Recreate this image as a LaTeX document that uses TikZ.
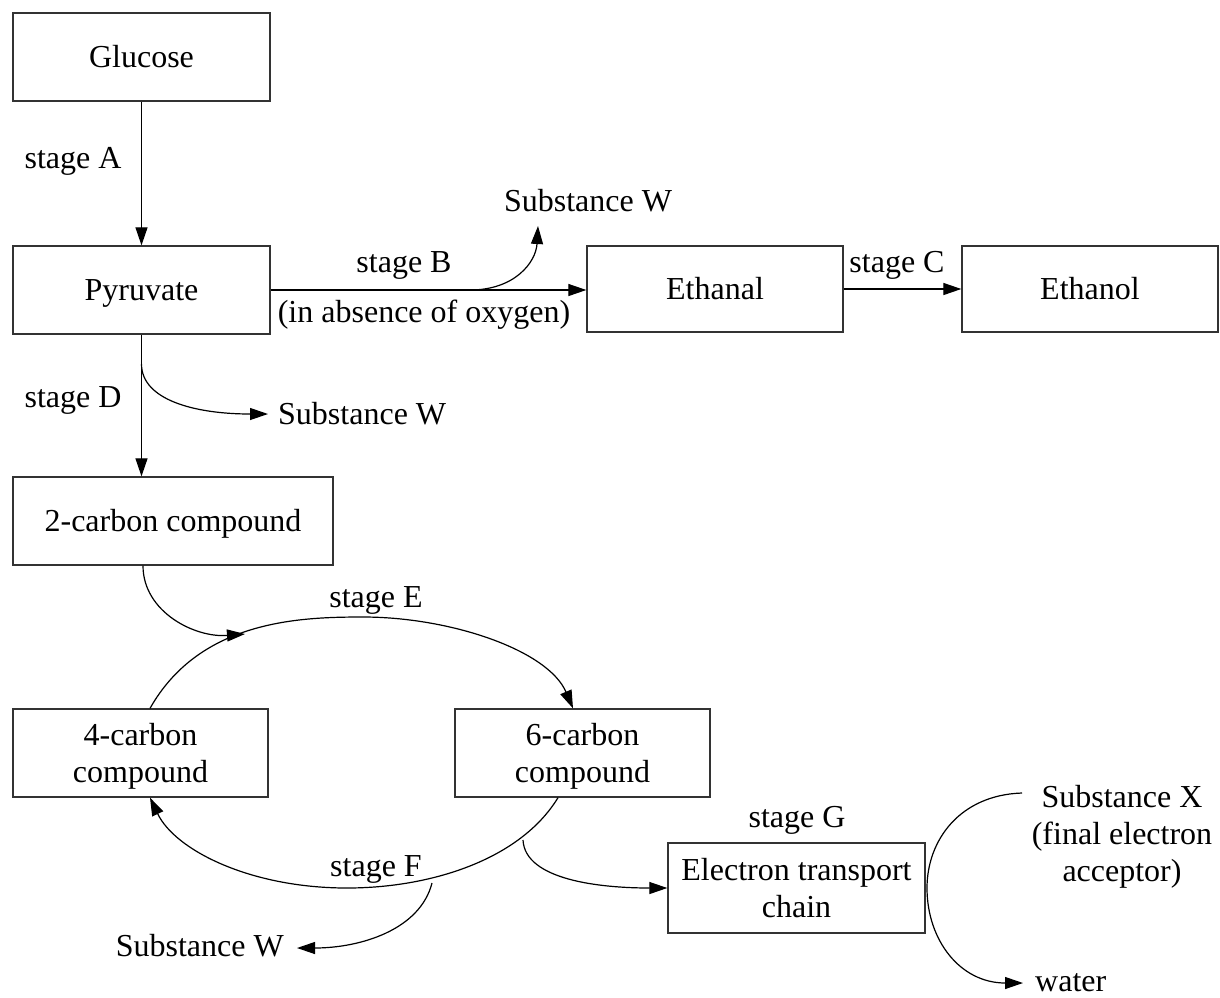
\documentclass[tikz,border=0pt]{standalone}
\usepackage{fontspec}
\setmainfont{Liberation Serif}
\usetikzlibrary{arrows.meta}
\begin{document}
\begin{tikzpicture}[x=1pt,y=-1pt,
  every node/.style={font=\fontsize{32}{37}\selectfont},
  box/.style={draw=black!80,line width=1.3pt,minimum width=#1,minimum height=88pt,inner sep=0pt,align=center},
  one/.style={text height=21pt,text depth=0pt},
  lbl/.style={inner sep=0pt,text height=21pt,text depth=0pt},
  arr/.style={line width=1.2pt,-{Triangle[length=18pt,width=12pt]}}]
\useasboundingbox (0,0) rectangle (1220,997);
% boxes
\node[box=257pt,one] (glu) at (141.5,57) {Glucose};
\node[box=257pt,one] (pyr) at (141.5,290) {Pyruvate};
\node[box=256pt,one,minimum height=86pt] (eal) at (715,289) {Ethanal};
\node[box=256pt,one,minimum height=86pt] (eol) at (1090,289) {Ethanol};
\node[box=320pt,one] (c2) at (173,521) {2-carbon compound};
\node[box=255pt,text depth=0pt] (c4) at (140.5,753) {4-carbon\\compound};
\node[box=255pt,text depth=0pt] (c6) at (582.5,753) {6-carbon\\compound};
\node[box=257pt,minimum height=90pt] (etc) at (796.5,888) {Electron transport\\chain};
% labels
\node[lbl] (sA) at (73,158) {stage A};
\node[lbl] (sB) at (404,262) {stage B};
\node[lbl] (sBo) at (424,312) {(in absence of oxygen)};
\node[lbl] (sw1) at (588,201) {Substance W};
\node[lbl] (sC) at (897,262) {stage C};
\node[lbl] (sD) at (73,397) {stage D};
\node[lbl,anchor=west] (sw2) at (278,414) {Substance W};
\node[lbl] (sE) at (376,597) {stage E};
\node[lbl] (sF) at (376,866) {stage F};
\node[lbl,anchor=east] (sw3) at (284,946) {Substance W};
\node[lbl] (sG) at (797,817) {stage G};
\node[inner sep=0pt,align=center] (sX) at (1122,837) {Substance X\\(final electron\\acceptor)};
\node[lbl,anchor=west] (wat) at (1035,981) {water};
% coordinates for branch points and free ends
\coordinate (bB) at (470,290);
\coordinate (wB) at (538,226);
\coordinate (bD) at (141.5,364);
\coordinate (wD) at (268,414);
\coordinate (eIn) at (245,634);
\coordinate (bF) at (432,883);
\coordinate (wF) at (297,948);
\coordinate (bG) at (523,840);
\coordinate (xS) at (1022,793);
\coordinate (xE) at (1023,983);
% main arrows
\draw[arr] (glu.south) -- (pyr.north);
\draw[arr] (pyr.east) -- (pyr.east -| eal.west);
\draw[arr] (eal.east) -- (eal.east -| eol.west);
\draw[arr] (pyr.south) -- (pyr.south |- c2.north);
% branches
\draw[arr] (bB) .. controls (515,290) and (536,262) .. (wB);
\draw[arr] (bD) .. controls (141.5,400) and (195,414) .. (wD);
\draw[arr] ([xshift=-30pt]c2.south) .. controls (143,612) and (195,638) .. (eIn);
% cycle
\draw[arr] ([xshift=9.5pt]c4.north) .. controls (200,620) and (300,617) .. (363,617)
  .. controls (450,617) and (548,650) .. ([xshift=-9.5pt]c6.north);
\draw[arr] ([xshift=-24.5pt]c6.south) .. controls (520,860) and (430,888) .. (347,888)
  .. controls (250,888) and (175,850) .. ([xshift=9.5pt]c4.south);
\draw[arr] (bF) .. controls (420,930) and (360,948) .. (wF);
\draw[arr] (bG) .. controls (525,880) and (600,888) .. (etc.west);
% substance X to water
\draw[arr] (xS) .. controls (960,795) and (927,840) .. (927,888)
  .. controls (927,940) and (960,983) .. (xE);
\end{tikzpicture}
\end{document}
